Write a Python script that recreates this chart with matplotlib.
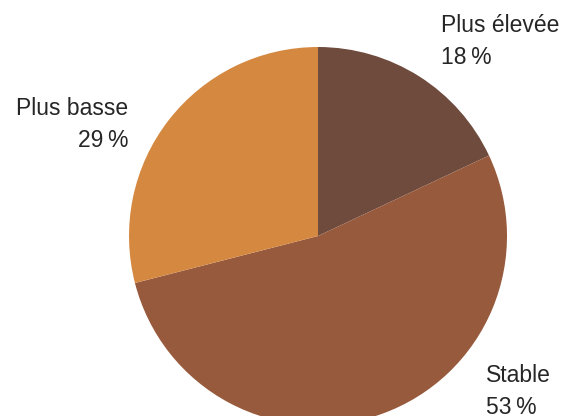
import matplotlib.pyplot as plt

# Répartition des réponses
labels = ['Plus élevée', 'Stable', 'Plus basse']
shares = [18, 53, 29]
colors = ['#6f4b3e', '#985a3c', '#d58940']

W, H = 563, 416
fig = plt.figure(figsize=(W / 100, H / 100), dpi=100)
ax = fig.add_axes([0, 0, 1, 1])

# axes in pixel units, origin bottom-left
ax.pie(shares, colors=colors, startangle=90, counterclock=False,
       center=(318, H - 236), radius=189,
       wedgeprops=dict(linewidth=0))
ax.set_xlim(0, W)
ax.set_ylim(0, H)
ax.set_aspect('auto')
ax.axis('off')

# label anchors (x, top y in pixels from the top) and alignment
label_pos = {
    'Plus élevée': (441, 14, 'left'),
    'Stable': (486, 364, 'left'),
    'Plus basse': (128, 97, 'right'),
}

for name, pct in zip(labels, shares):
    x, y, ha = label_pos[name]
    ax.text(x, H - y, f'{name}\n{pct}\u2009%', ha=ha, va='top',
            multialignment=ha, fontsize=16.5, family='Liberation Sans',
            color='#262626', linespacing=1.5)

fig.savefig('out.png', dpi=100)
